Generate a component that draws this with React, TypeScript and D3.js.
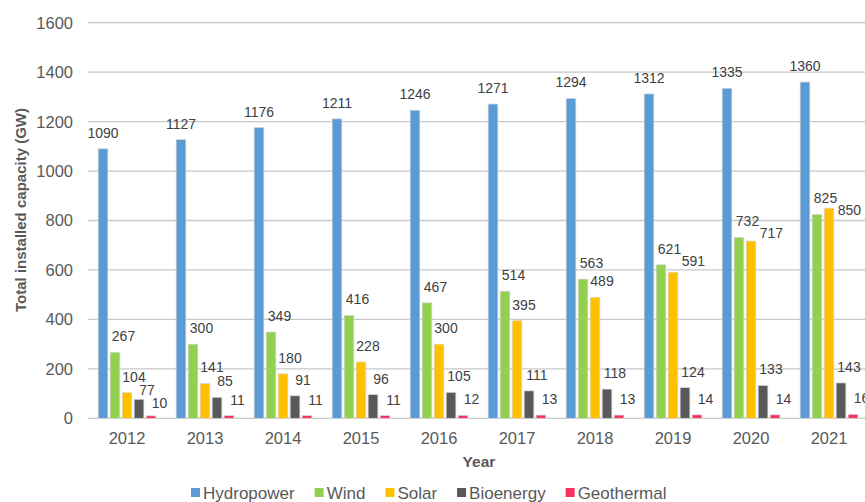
import React, { useEffect, useRef } from "react";
import * as d3 from "d3";

const years = ["2012", "2013", "2014", "2015", "2016", "2017", "2018", "2019", "2020", "2021"];
const seriesNames = ["Hydropower", "Wind", "Solar", "Bioenergy", "Geothermal"];
const hydropower = [1090, 1127, 1176, 1211, 1246, 1271, 1294, 1312, 1335, 1360];
const wind = [267, 300, 349, 416, 467, 514, 563, 621, 732, 825];
const solar = [104, 141, 180, 228, 300, 395, 489, 591, 717, 850];
const bioenergy = [77, 85, 91, 96, 105, 111, 118, 124, 133, 143];
const geothermal = [10, 11, 11, 11, 12, 13, 13, 14, 14, 16];
const yTicks = [0, 200, 400, 600, 800, 1000, 1200, 1400, 1600];

const colors = ["#5B9BD5", "#92D050", "#FFC000", "#595959", "#F7325E"];
// label nudge to the right, per series
const labelDx = [0, 8.5, 7, 8, 8.5];

const W = 865;
const H = 502;
const FONT = "'Liberation Sans', Arial, sans-serif";

const App: React.FC = () => {
  const svgRef = useRef<SVGSVGElement | null>(null);

  useEffect(() => {
    const svg = d3.select(svgRef.current);
    svg.selectAll("*").remove();

    const values = [hydropower, wind, solar, bioenergy, geothermal];

    const x = d3.scaleBand().domain(years).range([88, 868]);
    const x1 = d3
      .scaleBand()
      .domain(seriesNames)
      .range([0, x.bandwidth()])
      .paddingInner(0.19)
      .paddingOuter(0.845);
    const y = d3.scaleLinear().domain([0, 1600]).range([418.3, 22.7]);

    // gridlines
    svg
      .append("g")
      .selectAll("line")
      .data(yTicks)
      .join("line")
      .attr("x1", 88)
      .attr("x2", W)
      .attr("y1", d => y(d))
      .attr("y2", d => y(d))
      .attr("stroke", "#c8c8c8")
      .attr("stroke-width", 1.3);

    // y tick labels
    svg
      .append("g")
      .selectAll("text")
      .data(yTicks)
      .join("text")
      .attr("x", 73)
      .attr("y", d => y(d))
      .attr("dy", "0.36em")
      .attr("text-anchor", "end")
      .attr("font-family", FONT)
      .attr("font-size", 16.5)
      .attr("fill", "#595959")
      .text(d => d);

    // x tick labels
    svg
      .append("g")
      .selectAll("text")
      .data(years)
      .join("text")
      .attr("x", d => (x(d) as number) + x.bandwidth() / 2)
      .attr("y", 444)
      .attr("text-anchor", "middle")
      .attr("font-family", FONT)
      .attr("font-size", 16.5)
      .attr("fill", "#595959")
      .text(d => d);

    // bars
    const groups = svg
      .append("g")
      .selectAll("g")
      .data(years)
      .join("g")
      .attr("transform", d => `translate(${x(d)},0)`);

    groups
      .selectAll("rect")
      .data((_, i) => seriesNames.map((s, k) => ({ s, k, v: values[k][i] })))
      .join("rect")
      .attr("x", d => x1(d.s) as number)
      .attr("y", d => y(d.v))
      .attr("width", x1.bandwidth())
      .attr("height", d => y(0) - y(d.v))
      .attr("fill", d => colors[d.k])
      .attr("stroke", "#d9d9d9")
      .attr("stroke-width", 0.7);

    // data labels; when one hits the previous label it is moved:
    // solar labels slide right and down, the others just drop down
    const labels = svg.append("g");
    years.forEach((yr, i) => {
      let prev: { x0: number; x1: number; b: number } | null = null;
      seriesNames.forEach((s, k) => {
        const v = values[k][i];
        const cx = (x(yr) as number) + (x1(s) as number) + x1.bandwidth() / 2 + labelDx[k];
        let base = y(v) - 11;
        const t = labels
          .append("text")
          .attr("text-anchor", "start")
          .attr("font-family", FONT)
          .attr("font-size", 14)
          .attr("fill", "#404040")
          .text(v);
        const w = (t.node() as SVGTextElement).getComputedTextLength();
        let bx0 = cx - w / 2;
        if (prev && bx0 < prev.x1 && bx0 + w > prev.x0 && base - 12 < prev.b && base > prev.b - 12) {
          if (s === "Solar") {
            bx0 = prev.x1 + 0.5;
            base = Math.max(base, prev.b + 12);
          } else {
            base = prev.b + 13;
          }
        }
        t.attr("x", bx0).attr("y", base);
        prev = { x0: bx0, x1: bx0 + w, b: base };
      });
    });

    // axis titles
    svg
      .append("text")
      .attr("transform", "translate(26,210) rotate(-90)")
      .attr("text-anchor", "middle")
      .attr("font-family", FONT)
      .attr("font-weight", "bold")
      .attr("font-size", 15)
      .attr("fill", "#595959")
      .text("Total installed capacity (GW)");

    svg
      .append("text")
      .attr("x", 479)
      .attr("y", 467)
      .attr("text-anchor", "middle")
      .attr("font-family", FONT)
      .attr("font-weight", "bold")
      .attr("font-size", 15.5)
      .attr("fill", "#595959")
      .text("Year");

    // legend
    const legend = svg.append("g");
    let lx = 191;
    seriesNames.forEach((s, k) => {
      legend
        .append("rect")
        .attr("x", lx)
        .attr("y", 488)
        .attr("width", 9)
        .attr("height", 9)
        .attr("fill", colors[k]);
      const t = legend
        .append("text")
        .attr("x", lx + 12)
        .attr("y", 498.5)
        .attr("font-family", FONT)
        .attr("font-size", 17)
        .attr("fill", "#595959")
        .text(s);
      lx += 12 + (t.node() as SVGTextElement).getComputedTextLength() + 20;
    });
  }, []);

  return (
    <svg
      ref={svgRef}
      width={W}
      height={H}
      style={{ position: "absolute", left: 0, top: 0, background: "#fff" }}
    />
  );
};

export default App;
